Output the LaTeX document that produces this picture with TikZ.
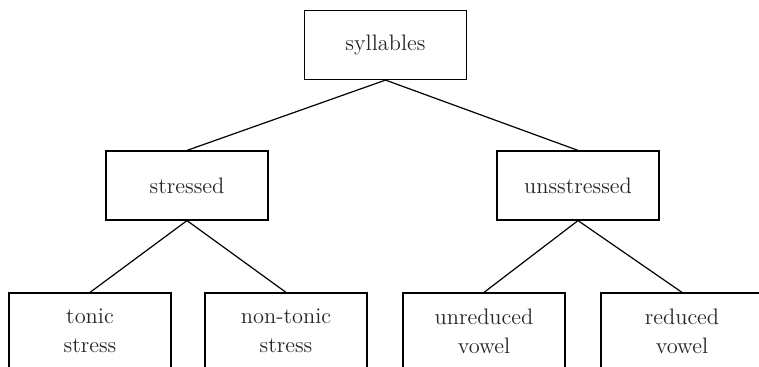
\documentclass[tikz,border=0pt]{standalone}
\usepackage{tikz}
\usetikzlibrary{positioning}
\tikzset{
  cat/.style={draw,line width=0.6pt,minimum width=81pt,minimum height=34.5pt,
              inner sep=0pt,align=center,text=black!85,
              font=\fontsize{11.2}{14.5}\selectfont},
  leaf/.style={cat,minimum height=38pt},
  edge/.style={line width=0.6pt},
}

\begin{document}
\begin{tikzpicture}[x=0.5pt,y=-0.5pt]
  \clip (0,0) rectangle (759,367);

  %% ── Top level ────────────────────────────────────────────────────────────
  \node[cat] (syl) at (385.5,45) {syllables};

  %% ── Second level ─────────────────────────────────────────────────────────
  \node[cat] (str) at (187,185.5) {stressed};
  \node[cat] (uns) at (578,185.5) {unsstressed};

  %% ── Leaves ───────────────────────────────────────────────────────────────
  \node[leaf] (ton) at (90,331)  {tonic\\stress};
  \node[leaf] (non) at (286,331) {non-tonic\\stress};
  \node[leaf] (unr) at (484,331) {unreduced\\vowel};
  \node[leaf] (red) at (682,331) {reduced\\vowel};

  %% ── Branches ─────────────────────────────────────────────────────────────
  \draw[edge] (syl.south) -- (str.north);
  \draw[edge] (syl.south) -- (uns.north);
  \draw[edge] (str.south) -- (ton.north);
  \draw[edge] (str.south) -- (non.north);
  \draw[edge] (uns.south) -- (unr.north);
  \draw[edge] (uns.south) -- (red.north);
\end{tikzpicture}
\end{document}
